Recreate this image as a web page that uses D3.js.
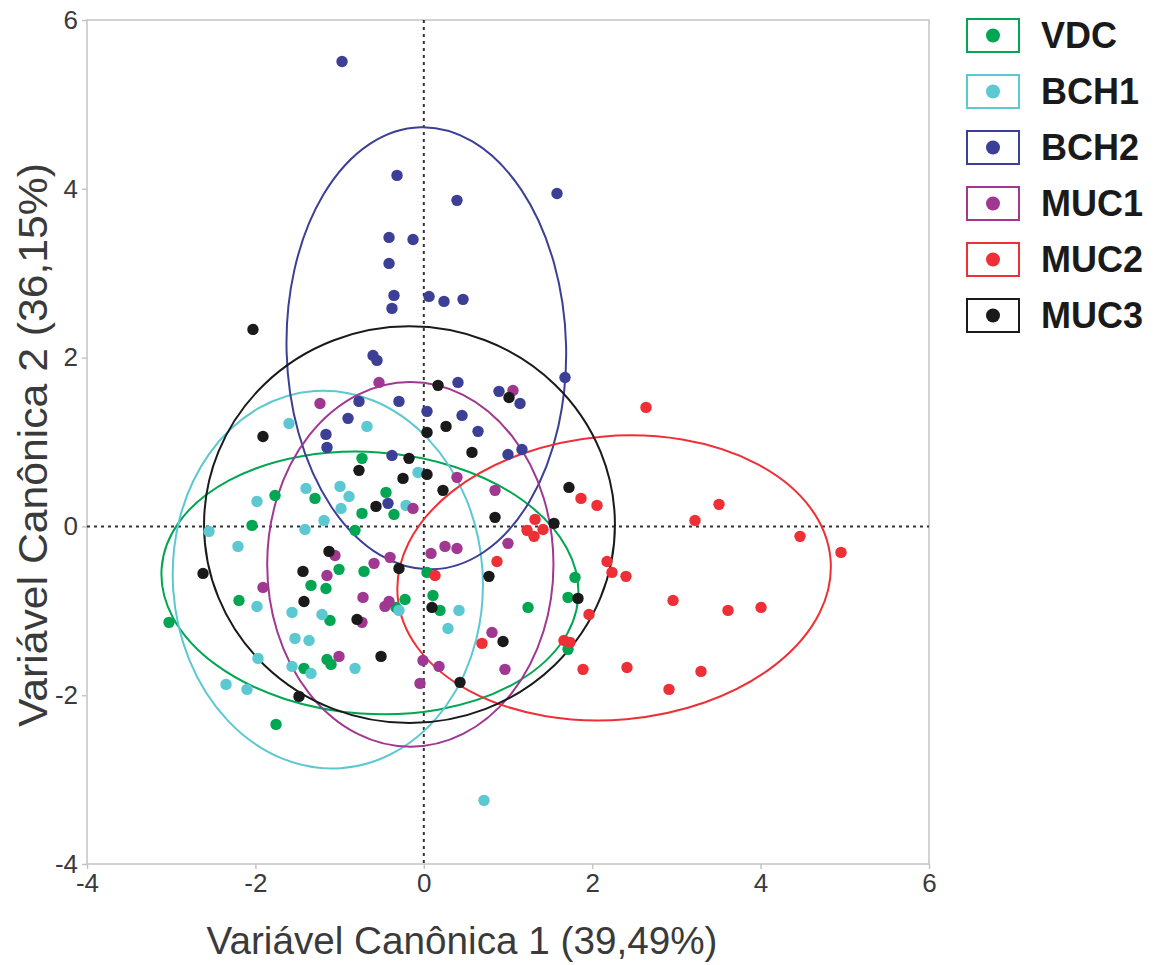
<!DOCTYPE html>
<html>
<head>
<meta charset="utf-8">
<script src="https://cdn.jsdelivr.net/npm/d3@7"></script>
<style>
  html, body { margin: 0; padding: 0; background: #fff; }
  svg { display: block; }
</style>
</head>
<body>
<svg id="chart" width="1164" height="965"></svg>
<script>
// ---------------- DATA ----------------
const groups = ["VDC", "BCH1", "BCH2", "MUC1", "MUC2", "MUC3"];
const colors = ["#00a651", "#5bc8d2", "#3b3f96", "#a03791", "#ee3036", "#1a1a1a"];
const tickValues = [-4, -2, 0, 2, 4, 6];
const xTitle = "Variável Canônica 1 (39,49%)";
const yTitle = "Variável Canônica 2 (36,15%)";

const vdc = [[-0.734,0.806],[-0.449,0.403],[-1.292,0.332],[-1.767,0.367],[-0.734,0.154],[-0.354,0.142],
  [-2.040,0.012],[-0.817,-0.047],[-1.007,-0.509],[-0.710,-0.533],[0.038,-0.545],[-1.340,-0.699],
  [-1.162,-0.735],[0.109,-0.818],[-2.195,-0.877],[-0.330,-0.960],[-0.223,-0.865],[0.192,-0.995],
  [-1.114,-1.114],[-3.026,-1.137],[-1.423,-1.682],[-1.150,-1.576],[-1.102,-1.635],[-1.755,-2.346],
  [1.796,-0.604],[1.713,-0.841],[1.238,-0.960],[1.713,-1.457]];
const bch1 = [[-1.601,1.220],[-0.675,1.185],[-0.069,0.640],[-1.399,0.450],[-0.995,0.474],[-0.888,0.355],
  [-1.981,0.296],[-0.983,0.213],[-0.211,0.249],[-1.185,0.071],[-2.551,-0.059],[-1.411,-0.036],
  [-2.207,-0.237],[-1.981,-0.948],[-0.295,-0.995],[-1.565,-1.019],[-1.209,-1.043],[0.287,-1.209],
  [0.418,-0.995],[-1.530,-1.327],[-1.363,-1.351],[-1.969,-1.564],[-1.565,-1.659],[-1.340,-1.742],
  [-0.817,-1.682],[-2.349,-1.872],[-2.100,-1.931],[0.715,-3.246]];
const bch2 = [[-0.971,5.509],[-0.318,4.159],[0.394,3.863],[1.582,3.945],[-0.413,3.424],[-0.128,3.400],
  [-0.413,3.116],[-0.354,2.737],[-0.378,2.583],[0.062,2.725],[0.240,2.666],[0.466,2.690],
  [-0.603,2.026],[-0.556,1.967],[1.677,1.765],[0.406,1.706],[-0.770,1.481],[-0.295,1.481],
  [0.893,1.600],[1.143,1.457],[0.038,1.363],[-0.900,1.280],[0.454,1.315],[-1.162,1.090],
  [0.644,1.126],[-1.150,0.936],[-0.378,0.841],[1.000,0.853],[1.166,0.912],[-0.425,0.273]];
const muc1 = [[-1.233,1.457],[-0.532,1.706],[1.059,1.611],[-0.128,0.213],[0.394,0.581],[0.846,0.427],
  [-1.055,-0.344],[-0.591,-0.438],[-0.401,-0.367],[0.086,-0.320],[0.252,-0.237],[0.394,-0.261],
  [1.000,-0.201],[-1.150,-0.581],[-1.910,-0.723],[-0.722,-0.841],[-0.461,-0.948],[-0.413,-0.889],
  [-0.734,-1.137],[-1.007,-1.540],[-0.010,-1.588],[0.181,-1.659],[-0.045,-1.860],[0.810,-1.256],
  [0.964,-1.694]];
const muc2 = [[2.639,1.410],[1.867,0.332],[2.057,0.249],[1.321,0.083],[1.226,-0.047],[1.309,-0.118],
  [1.416,-0.036],[3.506,0.261],[3.221,0.071],[4.468,-0.118],[4.955,-0.308],[0.869,-0.415],
  [2.176,-0.415],[2.235,-0.545],[2.401,-0.592],[0.133,-0.581],[1.962,-1.043],[2.960,-0.877],
  [0.691,-1.386],[1.665,-1.351],[1.736,-1.374],[1.891,-1.694],[2.413,-1.671],[2.912,-1.931],
  [3.292,-1.718],[3.613,-0.995],[4.005,-0.960]];
const muc3 = [[-2.029,2.334],[0.169,1.671],[1.012,1.528],[-1.910,1.066],[0.038,1.114],[0.264,1.185],
  [-0.176,0.806],[-0.770,0.664],[0.038,0.616],[-0.247,0.569],[0.228,0.427],[0.572,0.877],
  [-0.568,0.237],[1.724,0.462],[0.846,0.107],[1.546,0.036],[-1.126,-0.296],[-0.295,-0.498],
  [-1.435,-0.533],[-2.622,-0.557],[0.774,-0.592],[1.831,-0.853],[-1.423,-0.889],[0.097,-0.960],
  [-0.793,-1.102],[-0.508,-1.540],[0.941,-1.363],[0.430,-1.848],[-1.482,-2.014]];
const points = [vdc, bch1, bch2, muc1, muc2, muc3];

// confidence ellipses: centre x, centre y, radius x, radius y, tilt (degrees)
const ellCx = [-0.64, -1.14, 0.03, -0.16, 2.26, -0.17];
const ellCy = [-0.67, -0.63, 2.11, -0.45, -0.61, 0.02];
const ellRx = [2.48, 1.84, 1.66, 1.70, 2.58, 2.44];
const ellRy = [1.55, 2.24, 2.62, 2.16, 1.68, 2.35];
const ellAngle = [4, -4, -1.5, 0, -5, 0];

// ---------------- CHART ----------------
const svg = d3.select("#chart");
const m = { left: 87, right: 929, top: 20, bottom: 864 };
const x = d3.scaleLinear().domain([-4, 6]).range([m.left, m.right]);
const y = d3.scaleLinear().domain([-4, 6]).range([m.bottom, m.top]);
const font = "'Liberation Sans', Arial, sans-serif";
const narrow = "'Liberation Sans Narrow', 'Arial Narrow', 'Liberation Sans', Arial, sans-serif";
const textCol = "#3a3a3a";
const frameCol = "#c4c4c4";

// frame
svg.append("rect")
  .attr("x", m.left).attr("y", m.top)
  .attr("width", m.right - m.left).attr("height", m.bottom - m.top)
  .attr("fill", "none").attr("stroke", frameCol).attr("stroke-width", 1.5);

// axes
const xAxis = svg.append("g").attr("transform", `translate(0,${m.bottom})`)
  .call(d3.axisBottom(x).tickValues(tickValues).tickSize(5).tickPadding(5).tickFormat(d3.format("d")));
const yAxis = svg.append("g").attr("transform", `translate(${m.left},0)`)
  .call(d3.axisLeft(y).tickValues(tickValues).tickSize(5).tickPadding(4).tickFormat(d3.format("d")));
[xAxis, yAxis].forEach(g => {
  g.select(".domain").remove();
  g.selectAll(".tick line").attr("stroke", frameCol).attr("stroke-width", 1.5);
  g.selectAll(".tick text").attr("fill", textCol).style("font-family", narrow).style("font-size", "26px");
});
xAxis.selectAll(".tick text").text(d => String(d));
yAxis.selectAll(".tick text").text(d => String(d));

// zero reference lines
svg.append("line")
  .attr("x1", x(0)).attr("x2", x(0)).attr("y1", m.top).attr("y2", m.bottom)
  .attr("stroke", "#333").attr("stroke-width", 2).attr("stroke-dasharray", "3,4");
svg.append("line")
  .attr("x1", m.left).attr("x2", m.right).attr("y1", y(0)).attr("y2", y(0))
  .attr("stroke", "#333").attr("stroke-width", 2).attr("stroke-dasharray", "3,4");

// ellipses
const ellG = svg.append("g");
groups.forEach((g, i) => {
  const cx = x(ellCx[i]), cy = y(ellCy[i]);
  ellG.append("ellipse")
    .attr("cx", 0).attr("cy", 0)
    .attr("rx", x(ellRx[i]) - x(0))
    .attr("ry", y(0) - y(ellRy[i]))
    .attr("transform", `translate(${cx},${cy}) rotate(${ellAngle[i]})`)
    .attr("fill", "none").attr("stroke", colors[i]).attr("stroke-width", 2);
});

// points
const ptG = svg.append("g");
groups.forEach((g, i) => {
  ptG.selectAll(null).data(points[i]).enter().append("circle")
    .attr("cx", d => x(d[0])).attr("cy", d => y(d[1]))
    .attr("r", 5.7).attr("fill", colors[i]);
});

// axis titles
svg.append("text")
  .attr("x", 462).attr("y", 954)
  .attr("text-anchor", "middle")
  .attr("fill", textCol).style("font-family", font).style("font-size", "38px")
  .attr("textLength", 511).attr("lengthAdjust", "spacingAndGlyphs")
  .text(xTitle);
svg.append("text")
  .attr("transform", "translate(47,445) rotate(-90)")
  .attr("text-anchor", "middle")
  .attr("fill", textCol).style("font-family", font).style("font-size", "40px")
  .attr("textLength", 564).attr("lengthAdjust", "spacingAndGlyphs")
  .text(yTitle);

// legend
const leg = svg.append("g");
groups.forEach((g, i) => {
  const top = 19 + i * 56;
  leg.append("rect")
    .attr("x", 967).attr("y", top).attr("width", 52).attr("height", 33)
    .attr("fill", "#fff").attr("stroke", colors[i]).attr("stroke-width", 2);
  leg.append("circle")
    .attr("cx", 993).attr("cy", top + 16.5).attr("r", 7).attr("fill", colors[i]);
  leg.append("text")
    .attr("x", 1041).attr("y", top + 29)
    .attr("fill", "#1a1a1a").style("font-family", font).style("font-size", "36px")
    .style("font-weight", "bold")
    .text(g);
});
</script>
</body>
</html>
